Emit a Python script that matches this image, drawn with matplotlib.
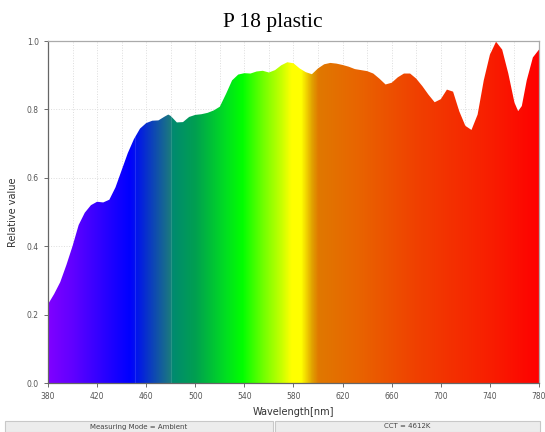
import numpy as np
import matplotlib
matplotlib.use('Agg')
import matplotlib.pyplot as plt
from matplotlib.colors import LinearSegmentedColormap
from matplotlib.patches import Rectangle

# spectrum (wavelength nm, relative value)
wl = [380, 385, 390, 395, 400, 405, 410, 415, 420, 425, 430, 435, 440, 445,
      450, 455, 460, 465, 470, 475, 478, 480, 485, 490, 495, 500, 505, 510,
      515, 520, 525, 530, 535, 540, 545, 550, 555, 560, 565, 570, 575, 580,
      585, 590, 595, 600, 605, 610, 615, 620, 625, 630, 635, 640, 645, 650,
      655, 660, 665, 670, 675, 680, 685, 690, 695, 700, 705, 710, 715, 720,
      725, 730, 735, 740, 745, 750, 755, 760, 763, 766, 770, 775, 780]
rel = [0.23, 0.26, 0.295, 0.345, 0.40, 0.462, 0.498, 0.52, 0.53, 0.528,
       0.536, 0.572, 0.622, 0.672, 0.713, 0.744, 0.76, 0.767, 0.768, 0.779,
       0.785, 0.781, 0.762, 0.763, 0.778, 0.784, 0.786, 0.79, 0.797, 0.808,
       0.845, 0.885, 0.902, 0.906, 0.905, 0.911, 0.913, 0.908, 0.915, 0.929,
       0.938, 0.935, 0.92, 0.909, 0.903, 0.92, 0.932, 0.936, 0.934, 0.93,
       0.925, 0.918, 0.915, 0.912, 0.905, 0.89, 0.873, 0.878, 0.894, 0.905,
       0.905, 0.89, 0.868, 0.843, 0.821, 0.83, 0.858, 0.852, 0.795, 0.752,
       0.74, 0.785, 0.885, 0.96, 0.998, 0.975, 0.905, 0.82, 0.795, 0.81,
       0.885, 0.952, 0.975]

# spectrum colour stops (nm, colour)
stop_nm = [380, 400, 430, 446, 451, 479, 481, 500, 525, 538, 555, 570, 578,
           586, 595, 600, 630, 680, 740, 780]
stop_col = ['#8000ff', '#6000ff', '#2000ff', '#0000ff', '#0010f0', '#1a7880',
            '#008a70', '#00a050', '#00e020', '#00ff00', '#70ff00', '#c8ff00',
            '#ffff00', '#ffff00', '#e0a000', '#e07800', '#e86600', '#f04000',
            '#f81e00', '#ff0000']

x_ticks = [380, 420, 460, 500, 540, 580, 620, 660, 700, 740, 780]
y_ticks = [0.0, 0.2, 0.4, 0.6, 0.8, 1.0]

fig = plt.figure(figsize=(5.45, 4.32), dpi=100)
ax = fig.add_axes([0.088, 0.1134, 0.901, 0.7916])

pos = [(n - 380) / 400 for n in stop_nm]
cmap = LinearSegmentedColormap.from_list('spec', list(zip(pos, stop_col)), N=1024)
grad = np.linspace(0, 1, 1200).reshape(1, -1)
img = ax.imshow(grad, cmap=cmap, aspect='auto', extent=[380, 780, 0, 1],
                origin='lower', zorder=2, interpolation='bilinear')
poly = ax.fill_between(wl, rel, 0, color='none', lw=0)
img.set_clip_path(poly.get_paths()[0], transform=ax.transData)

# faint seams visible in the fill
for s in [451, 480]:
    ax.plot([s, s], [0, np.interp(s, wl, rel)], color='white', alpha=0.13,
            lw=0.8, zorder=3)

ax.set_xlim(380, 780)
ax.set_ylim(0, 1.0)
ax.set_xticks(x_ticks)
ax.set_xticks(np.arange(380, 781, 20), minor=True)
ax.set_yticks(y_ticks)
ax.set_yticklabels([f'{v:.1f}' for v in y_ticks])
ax.tick_params(axis='both', labelsize=5.5, colors='#555555', length=3, width=0.6)
ax.tick_params(axis='x', which='minor', length=0)
ax.grid(which='both', axis='x', color='#dddddd', ls=':', lw=0.7, zorder=0)
ax.grid(which='major', axis='y', color='#dddddd', ls=':', lw=0.7, zorder=0)
ax.set_axisbelow(True)
for side in ['left', 'bottom']:
    ax.spines[side].set_color('#666666')
    ax.spines[side].set_linewidth(0.9)
for side in ['top', 'right']:
    ax.spines[side].set_color('#aaaaaa')
    ax.spines[side].set_linewidth(0.9)

ax.set_xlabel('Wavelength[nm]', fontsize=7, color='#333333', labelpad=4)
ax.set_ylabel('Relative value', fontsize=7, color='#333333', labelpad=6)

fig.text(0.5, 0.948, 'P 18 plastic', ha='center', va='center',
         family='Liberation Serif', fontsize=15.5, color='black')

# status bar
for x0, x1, txt in [(5, 273, 'Measuring Mode = Ambient'),
                    (275, 540, 'CCT = 4612K')]:
    fig.patches.append(Rectangle((x0 / 545, 0.0), (x1 - x0) / 545, 11 / 432,
                                 transform=fig.transFigure, fc='#ececec',
                                 ec='#c8c8c8', lw=0.8))
    fig.text((x0 + x1) / 2 / 545, 5.5 / 432, txt, ha='center', va='center',
             fontsize=5, color='#444444')

plt.savefig('out.png', dpi=100)
plt.close()
